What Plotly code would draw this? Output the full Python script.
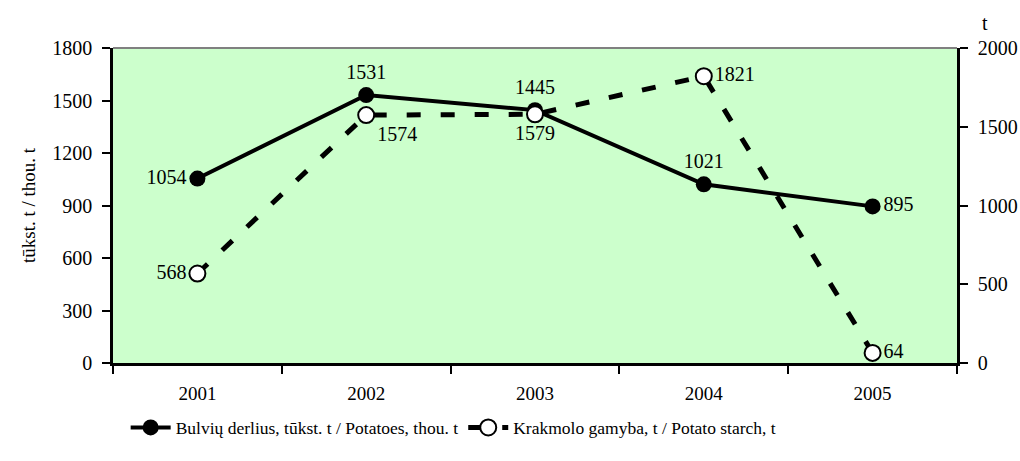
import plotly.graph_objects as go

years = ["2001", "2002", "2003", "2004", "2005"]
potatoes = [1054, 1531, 1445, 1021, 895]
starch = [568, 1574, 1579, 1821, 64]
potatoes_name = "Bulvių derlius, tūkst. t / Potatoes, thou. t"
starch_name = "Krakmolo gamyba, t / Potato starch, t"
left_ticks = [0, 300, 600, 900, 1200, 1500, 1800]
right_ticks = [0, 500, 1000, 1500, 2000]
pot_textpos = ["middle left", "top center", "top center", "top center", "middle right"]
starch_textpos = ["middle left", "bottom right", "bottom center", "middle right", "middle right"]

FONT = "Liberation Serif, Times New Roman, serif"

fig = go.Figure()
fig.add_trace(go.Scatter(
    x=years, y=potatoes, name=potatoes_name, mode="lines+markers+text",
    line=dict(color="black", width=4),
    marker=dict(color="black", size=16, symbol="circle"),
    text=[str(v) for v in potatoes], textposition=pot_textpos,
    textfont=dict(family=FONT, size=20, color="black"),
    cliponaxis=False,
))
fig.add_trace(go.Scatter(
    x=years, y=starch, name=starch_name, mode="lines+markers+text", yaxis="y2",
    line=dict(color="black", width=5, dash="14px,20px"),
    marker=dict(color="white", size=16, symbol="circle", line=dict(color="black", width=2)),
    text=[str(v) for v in starch], textposition=starch_textpos,
    textfont=dict(family=FONT, size=20, color="black"),
    cliponaxis=False,
))

fig.update_layout(
    width=1020, height=461, autosize=False,
    margin=dict(l=113, r=63, t=48, b=98),
    paper_bgcolor="white",
    plot_bgcolor="#CCFFCC",
    font=dict(family=FONT, size=20, color="black"),
    showlegend=True,
    legend=dict(orientation="h", x=0.015, xanchor="left", y=-0.205, yanchor="middle",
                itemwidth=40,
                font=dict(family=FONT, size=17.5), bgcolor="rgba(0,0,0,0)"),
    xaxis=dict(type="category", tickson="boundaries", ticks="outside", ticklen=8,
               tickwidth=2, tickcolor="black", showline=True, linecolor="black",
               linewidth=2.5, showgrid=False, zeroline=False, automargin=False,
               tickfont=dict(family=FONT, size=19), ticklabelstandoff=11,
               range=[-0.5, 4.5]),
    yaxis=dict(range=[0, 1800], tickvals=left_ticks, ticks="outside", ticklen=8,
               tickwidth=2, tickcolor="black", showline=True, linecolor="black",
               linewidth=2.5, showgrid=False, zeroline=False, automargin=False,
               tickfont=dict(family=FONT, size=20), ticklabelstandoff=6,
               title=dict(text="tūkst. t / thou. t", font=dict(family=FONT, size=19), standoff=12)),
    yaxis2=dict(range=[0, 2000], tickvals=right_ticks, overlaying="y", side="right",
                ticks="outside", ticklen=8, tickwidth=2, tickcolor="black",
                showline=True, linecolor="black", linewidth=2.5, showgrid=False,
                zeroline=False, automargin=False,
                tickfont=dict(family=FONT, size=20), ticklabelstandoff=6),
    shapes=[dict(type="line", xref="paper", yref="paper", x0=0, x1=1, y0=1, y1=1,
                 line=dict(color="#808080", width=2))],
    annotations=[dict(text="t", xref="paper", yref="paper", x=1.033, xanchor="center",
                      y=1.0, yanchor="bottom", yshift=12, showarrow=False,
                      font=dict(family=FONT, size=20))],
)

fig.write_html(
    "out.html",
    config={"responsive": False, "displayModeBar": False},
    post_script="document.body.style.margin='0';document.body.style.overflow='hidden';",
)
